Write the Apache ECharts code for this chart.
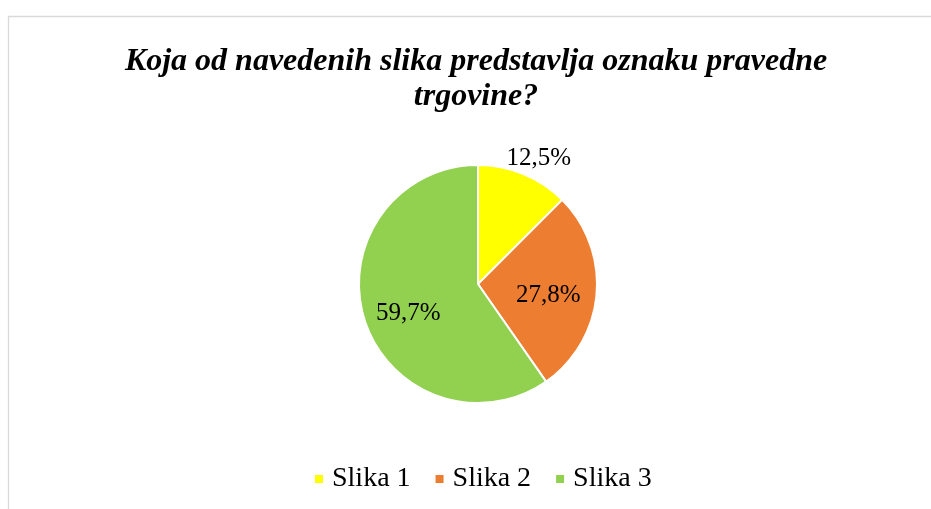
<!DOCTYPE html>
<html>
<head>
<meta charset="utf-8">
<script src="https://cdn.jsdelivr.net/npm/echarts@6/dist/echarts.min.js"></script>
<style>
  html, body { margin: 0; padding: 0; background: #fff; }
  #chart { width: 931px; height: 509px; }
</style>
</head>
<body>
<div id="chart"></div>
<script>
// podaci
const categories = ['Slika 1', 'Slika 2', 'Slika 3'];
const values = [12.5, 27.8, 59.7];
const colors = ['#FFFF00', '#ED7D31', '#92D050'];
const labelTexts = ['12,5%', '27,8%', '59,7%'];

const serif = '"Liberation Serif", "Times New Roman", serif';

// pomaci oznaka (dx, dy) da bi bile kao u originalu
const labelShift = [[-25, -8], [8, 6], [-10, 11]];

const chart = echarts.init(document.getElementById('chart'));

const option = {
  backgroundColor: '#fff',
  animation: false,
  graphic: [{
    type: 'rect',
    shape: { x: 8.5, y: 16.5, width: 1000, height: 600 },
    style: { fill: 'none', stroke: '#d9d9d9', lineWidth: 1.3 },
    silent: true
  }],
  title: {
    text: 'Koja od navedenih slika predstavlja oznaku pravedne\ntrgovine?',
    left: 471,
    textAlign: 'center',
    top: 39,
    textStyle: {
      fontFamily: serif,
      fontSize: 32,
      fontWeight: 'bold',
      fontStyle: 'italic',
      color: '#000',
      lineHeight: 35
    }
  },
  legend: {
    data: categories,
    bottom: 11,
    left: 308,
    icon: 'rect',
    itemWidth: 10,
    itemHeight: 10,
    itemGap: 23,
    textStyle: {
      fontFamily: serif,
      fontSize: 28,
      color: '#000',
      padding: [0, 0, 0, 3]
    }
  },
  series: [{
    type: 'pie',
    center: [478, 284],
    radius: [0, 119],
    startAngle: 90,
    clockwise: true,
    itemStyle: { borderColor: '#fff', borderWidth: 2 },
    labelLine: { show: false, length: 8, length2: 0 },
    label: {
      fontFamily: serif,
      fontSize: 25,
      color: '#000',
      formatter: p => labelTexts[p.dataIndex]
    },
    labelLayout: p => ({ dx: labelShift[p.dataIndex][0], dy: labelShift[p.dataIndex][1] }),
    data: categories.map((name, i) => ({
      name: name,
      value: values[i],
      itemStyle: { color: colors[i] },
      label: { position: i === 0 ? 'outside' : 'inside' }
    }))
  }]
};

chart.setOption(option);
</script>
</body>
</html>
